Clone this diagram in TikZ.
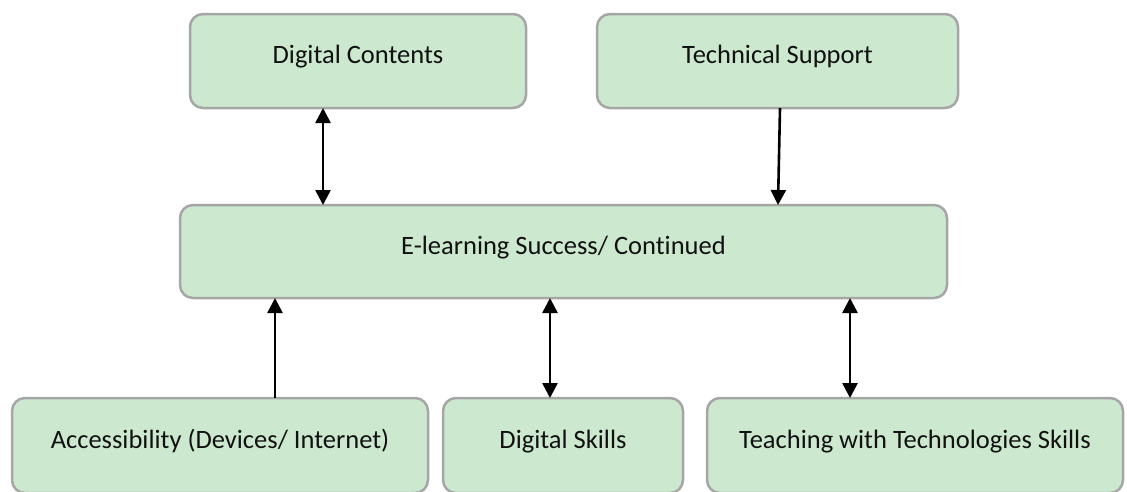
\documentclass[tikz,border=0pt]{standalone}
\usepackage{fontspec}
\setmainfont{Carlito}[Ligatures={NoCommon}]
\usetikzlibrary{arrows.meta}
\definecolor{boxfill}{HTML}{CCE8CF}
\definecolor{boxline}{HTML}{A6A6A6}
\definecolor{ink}{HTML}{111111}
\begin{document}
\begin{tikzpicture}[x=1pt,y=-1pt,
  block/.style={draw=boxline, fill=boxfill, line width=2.5pt, rounded corners=13pt,
    inner sep=0pt, outer sep=0pt, text=ink,
    font=\fontsize{26.5}{30}\selectfont, text height=11pt, text depth=6pt},
  tipstyle/.style={line width=2.6pt, draw=black},
  one/.style={tipstyle, -{Triangle[width=15pt,length=15pt]}},
  both/.style={tipstyle, {Triangle[width=15pt,length=15pt]}-{Triangle[width=15pt,length=15pt]}}]
\useasboundingbox (0,0) rectangle (1127,491);

% top row
\node[block, minimum width=336pt, minimum height=94pt] (dc) at (358,61) {Digital Contents};
\node[block, minimum width=361pt, minimum height=94pt] (ts) at (777.5,61) {Technical Support};

% centre
\node[block, minimum width=767pt, minimum height=93pt] (el) at (563.5,251.5) {E-learning Success/ Continued};

% bottom row
\node[block, minimum width=416pt, minimum height=95pt] (acc) at (220,445.5) {Accessibility (Devices/ Internet)};
\node[block, minimum width=240pt, minimum height=95pt] (ds) at (563,445.5) {Digital Skills};
\node[block, minimum width=416pt, minimum height=95pt] (tw) at (915,445.5) {Teaching with Technologies Skills};

% connector columns
\coordinate (c1) at (323,0);
\coordinate (c2a) at (780,0);
\coordinate (c2b) at (778,0);
\coordinate (c3) at (275,0);
\coordinate (c4) at (550,0);
\coordinate (c5) at (850,0);

\draw[both] (dc.south -| c1) -- (el.north -| c1);
\draw[one] (ts.south -| c2a) -- (el.north -| c2b);
\draw[one] (acc.north -| c3) -- (el.south -| c3);
\draw[both] (ds.north -| c4) -- (el.south -| c4);
\draw[both] (tw.north -| c5) -- (el.south -| c5);
\end{tikzpicture}
\end{document}
